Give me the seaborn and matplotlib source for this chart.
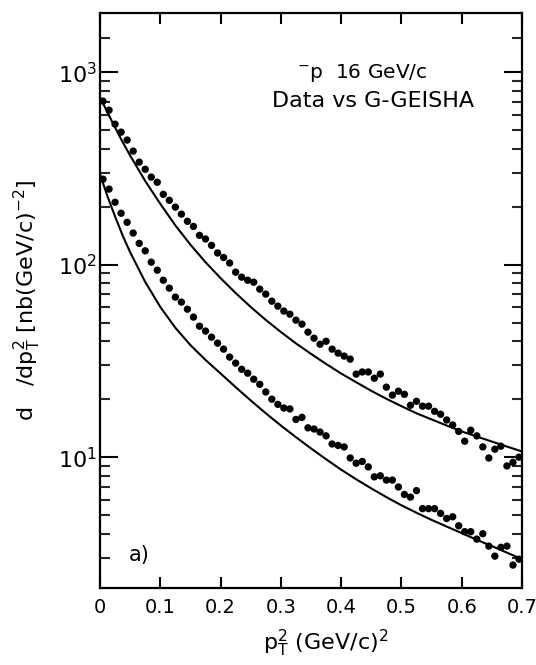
import numpy as np
import pandas as pd
import matplotlib
matplotlib.use("Agg")
import matplotlib.pyplot as plt
from matplotlib.ticker import FixedLocator, NullFormatter, LogFormatterMathtext
import seaborn as sns

# ---- data ----
pt2_bins = np.round(np.arange(0.005, 0.7, 0.01), 3)

data_upper = [707, 635, 537, 488, 444, 389, 341, 313, 285, 268, 232, 216, 199, 183, 168, 158, 142, 136, 126, 115, 109,
              102, 91.4, 86.1, 83.0, 81.1, 74.6, 70.3, 64.6, 60.9, 57.4, 55.3, 51.5, 49.1, 44.6, 41.5,
              38.6, 40.0, 36.4, 34.7, 33.5, 32.3, 27.0, 27.7, 27.7, 25.7, 27.0, 23.1, 21.0, 22.0, 21.2, 18.6,
              19.5, 18.4, 18.4, 17.3, 16.7, 15.6, 14.7, 13.6, 12.1, 13.8, 12.9, 11.3, 9.9, 11.0, 11.4, 9.0, 9.4, 10.0]

data_lower = [278, 247, 211, 185, 166, 146, 129, 118, 103, 93.6, 83.0, 75.5, 67.8, 63.9, 58.7, 53.4, 47.9, 45.2, 42.0, 39.1, 36.4, 33.1,
              30.8, 28.6, 27.3, 25.4, 23.9, 21.8, 20.0, 18.8, 18.0, 17.8, 15.7, 16.1, 14.2, 14.0, 13.5, 12.9, 11.7, 11.5, 11.3,
              9.9, 9.3, 9.5, 8.9, 7.9, 8.0, 7.6, 7.6, 7.0, 6.4, 6.2, 6.7, 5.4, 5.4, 5.4, 5.1, 4.8, 4.9, 4.4, 4.1, 4.1, 3.75,
              4.0, 3.45, 3.06, 3.40, 3.45, 2.75, 2.95]

curve_x = [0.0, 0.0125, 0.025, 0.0375, 0.05, 0.075, 0.10, 0.125, 0.15, 0.175, 0.20, 0.225, 0.25, 0.275, 0.30,
           0.325, 0.35, 0.375, 0.40, 0.425, 0.45, 0.475, 0.50, 0.525, 0.55, 0.575, 0.60, 0.625, 0.65, 0.675, 0.70]
curve_upper = [741, 617, 516, 434, 369, 272, 207, 160, 127, 103, 85.1, 71.2, 60.3, 51.6, 44.7,
               39.0, 34.4, 30.5, 27.2, 24.5, 22.1, 20.1, 18.4, 16.9, 15.7, 14.6, 13.6, 12.8, 12.05, 11.35, 10.7]
curve_lower = [295, 226, 178, 142, 116, 81.3, 60.3, 47.0, 38.2, 32.0, 27.2, 23.1, 19.7, 16.9, 14.6,
               12.7, 11.1, 9.75, 8.61, 7.67, 6.88, 6.20, 5.62, 5.14, 4.72, 4.36, 4.03, 3.72, 3.45, 3.19, 2.95]

x_ticks = [0, 0.1, 0.2, 0.3, 0.4, 0.5, 0.6, 0.7]
x_tick_labels = ["0", "0.1", "0.2", "0.3", "0.4", "0.5", "0.6", "0.7"]

# ---- tables ----
dots = pd.DataFrame({
    "pt2": np.concatenate([pt2_bins, pt2_bins]),
    "val": data_upper + data_lower,
    "set": ["upper"] * len(data_upper) + ["lower"] * len(data_lower),
})
curves = pd.DataFrame({
    "pt2": curve_x + curve_x,
    "val": curve_upper + curve_lower,
    "set": ["upper"] * len(curve_upper) + ["lower"] * len(curve_lower),
})

sns.set_theme(style="ticks")
plt.rcParams["font.family"] = ["DejaVu Sans"]
plt.rcParams["mathtext.fontset"] = "dejavusans"

fig = plt.figure(figsize=(5.36, 6.65), dpi=100)
ax = fig.add_axes([100 / 536, 1 - 588 / 665, 422 / 536, 575 / 665])

sns.lineplot(data=curves, x="pt2", y="val", units="set", estimator=None, sort=False,
             color="black", linewidth=1.5, ax=ax, legend=False)
sns.scatterplot(data=dots, x="pt2", y="val", color="black", s=28, edgecolor="none",
                ax=ax, legend=False)

ax.set_yscale("log")
ax.set_xlim(0, 0.7)
ax.set_ylim(2.09, 2030)

ax.set_xticks(x_ticks)
ax.set_xticklabels(x_tick_labels)
ax.yaxis.set_major_locator(FixedLocator([10, 100, 1000]))
ax.yaxis.set_major_formatter(LogFormatterMathtext())
minor = [3, 4, 5, 6, 7, 8, 9, 20, 30, 40, 50, 60, 70, 80, 90,
         200, 300, 400, 500, 600, 700, 800, 900, 1500]
ax.yaxis.set_minor_locator(FixedLocator(minor))
ax.yaxis.set_minor_formatter(NullFormatter())
ax.xaxis.set_minor_locator(FixedLocator([]))

for sp in ax.spines.values():
    sp.set_visible(True)
    sp.set_linewidth(1.6)
    sp.set_color("black")

ax.tick_params(axis="x", which="major", direction="in", length=8, width=1.5,
               top=True, bottom=True, labelsize=14, pad=7, colors="black")
ax.tick_params(axis="y", which="major", direction="in", length=13, width=1.5,
               left=True, right=True, labelsize=16, pad=2, colors="black")
ax.tick_params(axis="y", which="minor", direction="in", length=7.5, width=1.5,
               left=True, right=True)

ax.set_xlabel(r"p$_{\mathrm{T}}^{2}$ (GeV/c)$^{2}$", fontsize=16, labelpad=4, color="black")
ax.xaxis.set_label_coords(0.535, -0.07)
ax.set_ylabel(r"d   /dp$_{\mathrm{T}}^{2}$ [nb(GeV/c)$^{-2}$]", fontsize=16, labelpad=11, color="black")

ax.text(0.468, 0.895, r"$^{-}$p  16 GeV/c", transform=ax.transAxes, fontsize=14.5,
        ha="left", va="center", color="black")
ax.text(0.408, 0.847, "Data vs G-GEISHA", transform=ax.transAxes, fontsize=16,
        ha="left", va="center", color="black")
ax.text(0.068, 0.057, "a)", transform=ax.transAxes, fontsize=15,
        ha="left", va="center", color="black")

ax.set_facecolor("white")
fig.patch.set_facecolor("white")
fig.savefig("out.png", dpi=100, facecolor="white")
